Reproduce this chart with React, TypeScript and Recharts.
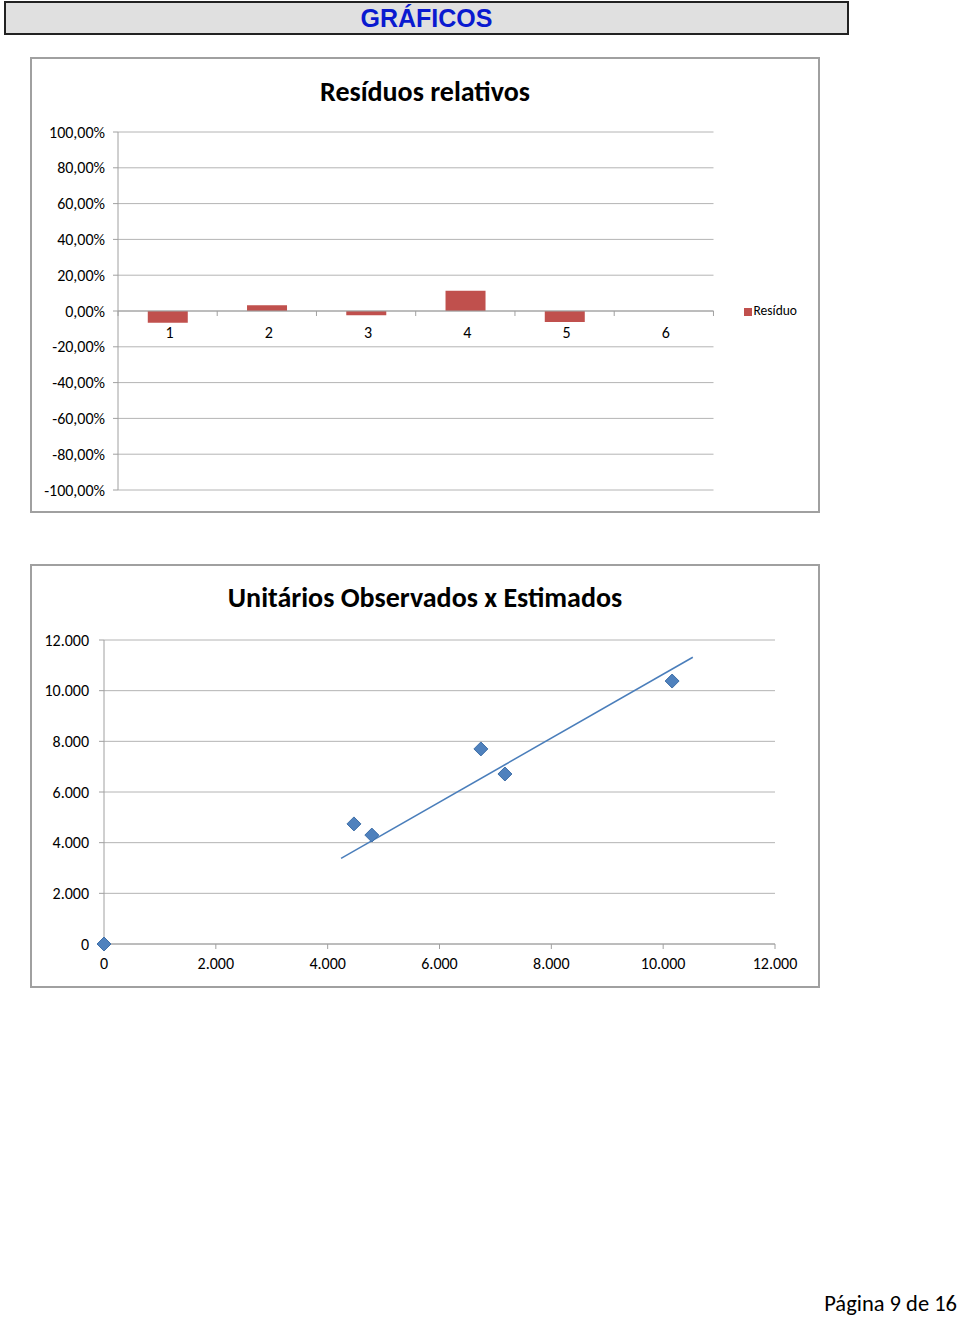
import {
  Bar,
  BarChart,
  CartesianGrid,
  Legend,
  ReferenceLine,
  Scatter,
  ScatterChart,
  XAxis,
  YAxis
} from "recharts";

const categories = ["1", "2", "3", "4", "5", "6"];
const residuals = [-0.065, 0.032, -0.024, 0.113, -0.062, 0];
const residualTicks = [-1, -0.8, -0.6, -0.4, -0.2, 0, 0.2, 0.4, 0.6, 0.8, 1];

const observedX = [0, 4470, 4790, 6740, 7170, 10160];
const observedY = [0, 4740, 4300, 7700, 6710, 10380];
const trendX = [4240, 10530];
const trendY = [3380, 11320];
const unitTicks = [0, 2000, 4000, 6000, 8000, 10000, 12000];

const residualData = categories.map((name, i) => ({ name, value: residuals[i] }));
const observedData = observedX.map((x, i) => ({ x, y: observedY[i] }));
const trendData = trendX.map((x, i) => ({ x, y: trendY[i] }));

const FONT = "Carlito, Calibri, Lato, 'Open Sans', sans-serif";
const AXIS = "#a0a0a0";
const GRID = "#b4b4b4";
const TICK_FS = 16;

const pct = (v: number) => `${(v * 100).toFixed(2).replace(".", ",")}%`;
const thousands = (v: number) => String(v).replace(/\B(?=(\d{3})+(?!\d))/g, ".");

const BAR_W = 790;
const BAR_H = 456;
const Y_W = 88;
const PLOT_W = 595;
const BAR_MARGIN = { top: 75, right: 43, bottom: 3, left: 0 };
const PLOT_H = 358;
const BAND = PLOT_W / categories.length;

// Excel draws the category labels just under the zero line
const ZeroTick = (props: any) => {
  const { x, y, payload, index } = props;
  const zy = y - PLOT_H / 2;
  return (
    <g>
      <line x1={x + BAND / 2} x2={x + BAND / 2} y1={zy} y2={zy + 5} stroke={AXIS} />
      {index === 0 && <line x1={x - BAND / 2} x2={x - BAND / 2} y1={zy} y2={zy + 5} stroke={AXIS} />}
      <text x={x + 2} y={zy + 27} textAnchor="middle" fontSize={TICK_FS} fill="#000" fontFamily={FONT}>
        {payload.value}
      </text>
    </g>
  );
};

const Diamond = (props: any) => {
  const { cx, cy } = props;
  const r = 7;
  return (
    <polygon
      points={`${cx},${cy - r} ${cx + r},${cy} ${cx},${cy + r} ${cx - r},${cy}`}
      fill="#4f81bd"
      stroke="#3f6fa8"
      strokeWidth={1}
    />
  );
};

const box = (top: number, height: number): React.CSSProperties => ({
  position: "absolute",
  left: 30,
  top,
  width: 790,
  height,
  boxSizing: "border-box",
  border: `2px solid ${AXIS}`,
  background: "#fff"
});

const title = (top: number, text: string) => (
  <div
    style={{
      position: "absolute",
      left: 30,
      width: 790,
      top,
      textAlign: "center",
      fontFamily: FONT,
      fontWeight: 700,
      fontSize: 28,
      color: "#000"
    }}
  >
    {text}
  </div>
);

const App = () => {
  return (
    <div style={{ position: "absolute", left: 0, top: 0, width: 960, height: 1320, background: "#fff" }}>
      <div
        style={{
          position: "absolute",
          left: 4,
          top: 1,
          width: 845,
          height: 34,
          boxSizing: "border-box",
          border: "2px solid #222",
          background: "#e0e0e0",
          textAlign: "center",
          fontFamily: "'Liberation Sans Narrow', 'Liberation Sans', Arial, sans-serif",
          fontWeight: 700,
          fontSize: 25,
          lineHeight: "30px",
          color: "#0a1ad0"
        }}
      >
        GRÁFICOS
      </div>

      <div style={box(57, 456)}>
        <div style={{ position: "absolute", left: -2, top: -2 }}>
          <BarChart width={BAR_W} height={BAR_H} data={residualData} margin={BAR_MARGIN} barCategoryGap="30%">
            <CartesianGrid vertical={false} stroke={GRID} />
            <XAxis
              dataKey="name"
              height={20}
              axisLine={false}
              tickLine={false}
              tickSize={0}
              tickMargin={0}
              tick={(p: any) => <ZeroTick {...p} />}
              interval={0}
            />
            <YAxis
              width={Y_W}
              domain={[-1, 1]}
              ticks={residualTicks}
              tickFormatter={pct}
              stroke={AXIS}
              tickSize={5}
              tickMargin={8}
              tick={{ fill: "#000", fontSize: TICK_FS, fontFamily: FONT }}
              interval={0}
            />
            <ReferenceLine y={0} stroke={AXIS} />
            <Legend
              layout="vertical"
              align="right"
              verticalAlign="top"
              iconType="square"
              iconSize={8}
              wrapperStyle={{ right: 13, top: 245, fontFamily: FONT, fontSize: 13.5, color: "#000" }}
              formatter={(v) => <span style={{ color: "#000", marginLeft: -2 }}>{v}</span>}
            />
            <Bar dataKey="value" name="Resíduo" fill="#c0504d" isAnimationActive={false} />
          </BarChart>
        </div>
      </div>
      {title(74, "Resíduos relativos")}

      <div style={box(564, 424)}>
        <div style={{ position: "absolute", left: -2, top: -2 }}>
          <ScatterChart width={790} height={424} margin={{ top: 76, right: 45, bottom: 14, left: 0 }}>
            <CartesianGrid vertical={false} stroke={GRID} />
            <XAxis
              type="number"
              dataKey="x"
              domain={[0, 12000]}
              ticks={unitTicks}
              tickFormatter={thousands}
              height={30}
              stroke={AXIS}
              tickSize={5}
              tickMargin={9}
              tick={{ fill: "#000", fontSize: TICK_FS, fontFamily: FONT }}
              interval={0}
            />
            <YAxis
              type="number"
              dataKey="y"
              domain={[0, 12000]}
              ticks={unitTicks}
              tickFormatter={thousands}
              width={74}
              stroke={AXIS}
              tickSize={5}
              tickMargin={10}
              tick={{ fill: "#000", fontSize: TICK_FS, fontFamily: FONT }}
              interval={0}
            />
            <Scatter data={trendData} line={{ stroke: "#4a7ebb", strokeWidth: 1.5 }} shape={() => <g />} isAnimationActive={false} />
            <Scatter data={observedData} shape={<Diamond />} isAnimationActive={false} />
          </ScatterChart>
        </div>
      </div>
      {title(580, "Unitários Observados x Estimados")}

      <div
        style={{
          position: "absolute",
          right: 3,
          top: 1290,
          fontFamily: FONT,
          fontSize: 22.5,
          color: "#000"
        }}
      >
        Página 9 de 16
      </div>
    </div>
  );
};

export default App;
